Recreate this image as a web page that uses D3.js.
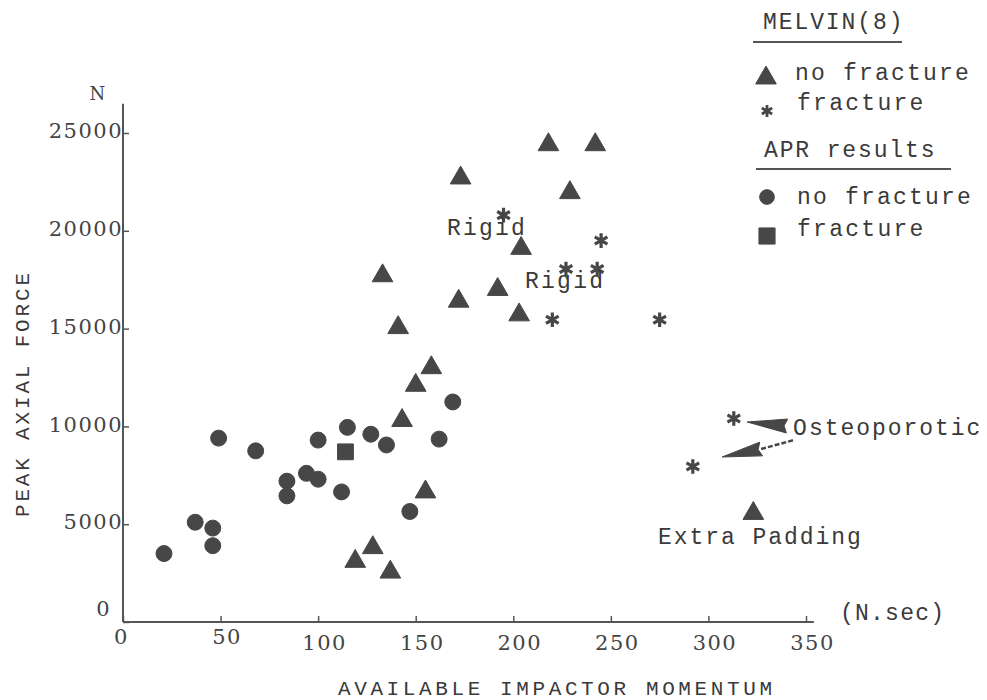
<!DOCTYPE html>
<html>
<head>
<meta charset="utf-8">
<script src="https://cdn.jsdelivr.net/npm/d3@7"></script>
<style>
  body { margin: 0; background: #fff; }
  svg { display: block; }
  .tick-label { font-family: "DejaVu Serif", serif; font-size: 21px; fill: #444; letter-spacing: 1.5px; }
  .mono { font-family: "Liberation Mono", monospace; font-size: 23px; fill: #3a3a3a; }
</style>
</head>
<body>
<script>
  // ---- data ----
  // APR results, no fracture: [momentum N.sec, peak force N]
  var aprNoFracture = [
    [21, 3500], [37, 5100], [46, 4800], [46, 3900], [49, 9400], [68, 8750],
    [84, 7200], [84, 6450], [94, 7600], [100, 7300], [100, 9300], [112, 6650],
    [115, 9950], [127, 9600], [135, 9050], [147, 5650], [162, 9350], [169, 11250]
  ];
  // APR results, fracture
  var aprFracture = [[114, 8700]];
  // MELVIN(8), no fracture
  var melvinNoFracture = [
    [158, 13000], [150, 12100], [143, 10300], [155, 6650], [128, 3800], [119, 3100],
    [137, 2550], [173, 22700], [133, 17700], [192, 17000], [172, 16400], [141, 15050],
    [218, 24400], [242, 24400], [229, 21950], [204, 19100], [203, 15700], [323, 5550]
  ];
  // MELVIN(8), fracture
  var melvinFracture = [
    [195, 20800], [245, 19500], [227, 18050], [243, 18050], [220, 15450],
    [275, 15450], [313, 10400], [292, 7950]
  ];

  var xTicks = [0, 50, 100, 150, 200, 250, 300, 350];
  var yTicks = [0, 5000, 10000, 15000, 20000, 25000];

  // text annotations, anchored in data units
  var notes = [
    { label: "Rigid", x: 166, y: 19800 },
    { label: "Rigid", x: 206, y: 17080 },
    { label: "Osteoporotic", x: 343.4, y: 9560 },
    { label: "Extra Padding", x: 274.2, y: 3990 }
  ];
  // arrows to the osteoporotic specimens: tip, base, optional dashed tail
  var arrows = [
    { tip: [319.8, 10225], base: [340.3, 10020], tail: null },
    { tip: [307, 8436], base: [327, 8845], tail: [343.9, 9305] }
  ];

  // ---- setup ----
  var width = 987, height = 700;
  var ink = "#474747";

  var svg = d3.select("body").append("svg")
    .attr("width", width)
    .attr("height", height);

  var x = d3.scaleLinear().domain([0, 350]).range([123, 806]);
  var y = d3.scaleLinear().domain([0, 25000]).range([622, 133]);

  // axis lines (hand drawn look: run a bit past the last tick)
  svg.append("line")
    .attr("x1", x(0)).attr("x2", x(0))
    .attr("y1", y(0)).attr("y2", y(26500))
    .attr("stroke", "#555").attr("stroke-width", 2);
  svg.append("line")
    .attr("x1", x(0)).attr("x2", x(354))
    .attr("y1", y(0)).attr("y2", y(0))
    .attr("stroke", "#555").attr("stroke-width", 2);

  // x axis ticks + labels
  var xAxisG = svg.append("g")
    .attr("transform", "translate(0," + y(0) + ")")
    .call(d3.axisBottom(x).tickValues(xTicks).tickSize(-6).tickPadding(11).tickFormat(d3.format("d")));
  xAxisG.select(".domain").remove();
  xAxisG.selectAll(".tick line").attr("stroke", "#555").attr("stroke-width", 1.5);
  xAxisG.selectAll(".tick text")
    .attr("class", "tick-label")
    .attr("dx", function (d) { return d === 0 ? -2 : 6; })
    .attr("dy", function (d) { return d < 100 ? "0.5em" : "0.8em"; });

  // y axis ticks + labels
  var yAxisG = svg.append("g")
    .attr("transform", "translate(" + x(0) + ",0)")
    .call(d3.axisLeft(y).tickValues(yTicks).tickSize(-6).tickPadding(0).tickFormat(d3.format("d")));
  yAxisG.select(".domain").remove();
  yAxisG.selectAll(".tick line").attr("stroke", "#555").attr("stroke-width", 1.5);
  yAxisG.selectAll(".tick text")
    .attr("class", "tick-label")
    .attr("dx", function (d) { return d === 0 ? -12 : 0; })
    .attr("dy", function (d) { return d === 0 ? "-0.3em" : "0.22em"; });

  // the axis groups carry font attributes; let the tick-label style decide
  svg.selectAll(".tick-label")
    .style("font-family", "'DejaVu Serif', serif")
    .style("font-size", "21px")
    .style("fill", "#444");

  // axis titles
  svg.append("text")
    .attr("class", "tick-label")
    .attr("x", 98).attr("y", 100)
    .attr("text-anchor", "middle")
    .style("font-size", "18px")
    .text("N");
  svg.append("text")
    .attr("class", "mono")
    .attr("x", 840).attr("y", 620)
    .attr("textLength", 104)
    .text("(N.sec)");
  svg.append("text")
    .attr("class", "mono")
    .attr("x", 338).attr("y", 695)
    .attr("textLength", 434)
    .style("font-size", "21px")
    .text("AVAILABLE IMPACTOR MOMENTUM");
  svg.append("text")
    .attr("class", "mono")
    .attr("transform", "translate(29,517) rotate(-90)")
    .attr("textLength", 244)
    .style("font-size", "21px")
    .text("PEAK AXIAL FORCE");

  // ---- marks ----
  var circleSym = d3.symbol().type(d3.symbolCircle).size(200);
  var squareSym = d3.symbol().type(d3.symbolSquare).size(250);
  var triSym = d3.symbol().type(d3.symbolTriangle).size(185);
  var starSym = d3.symbol().type(d3.symbolAsterisk).size(150);

  function plot(data, sym, cls, isStroke) {
    svg.append("g").attr("class", cls)
      .selectAll("path")
      .data(data)
      .enter().append("path")
      .attr("transform", function (d) { return "translate(" + x(d[0]) + "," + y(d[1]) + ")"; })
      .attr("d", sym)
      .attr("fill", isStroke ? "none" : ink)
      .attr("stroke", ink)
      .attr("stroke-width", isStroke ? 3.2 : 1)
      .attr("stroke-linejoin", "round");
  }

  plot(aprNoFracture, circleSym, "apr-nofrac", false);
  plot(aprFracture, squareSym, "apr-frac", false);
  plot(melvinNoFracture, triSym, "melvin-nofrac", false);
  plot(melvinFracture, starSym, "melvin-frac", true);

  // ---- annotations ----
  svg.append("g").selectAll("text")
    .data(notes)
    .enter().append("text")
    .attr("class", "mono")
    .attr("x", function (d) { return x(d.x); })
    .attr("y", function (d) { return y(d.y); })
    .attr("textLength", function (d) { return d.label.length * 15.6; })
    .text(function (d) { return d.label; });

  arrows.forEach(function (a) {
    var tx = x(a.tip[0]), ty = y(a.tip[1]);
    var bx = x(a.base[0]), by = y(a.base[1]);
    var len = Math.hypot(bx - tx, by - ty);
    var dx = (bx - tx) / len, dy = (by - ty) / len;
    var px = -dy, py = dx, hw = 7;
    var pts = [
      [tx, ty],
      [bx + px * hw, by + py * hw],
      [bx - dx * 3, by - dy * 3],
      [bx - px * hw, by - py * hw]
    ];
    svg.append("path")
      .attr("d", d3.line()(pts) + "Z")
      .attr("fill", ink)
      .attr("stroke", ink)
      .attr("stroke-width", 1)
      .attr("stroke-linejoin", "round");
    if (a.tail) {
      svg.append("line")
        .attr("x1", bx).attr("y1", by)
        .attr("x2", x(a.tail[0])).attr("y2", y(a.tail[1]))
        .attr("stroke", ink)
        .attr("stroke-width", 2.5)
        .attr("stroke-dasharray", "5,2");
    }
  });

  // ---- legend ----
  var legendG = svg.append("g").attr("class", "legend");
  var legendItems = [
    { header: "MELVIN(8)", hx: 763, hy: 29, line: [753, 902, 42] },
    { sym: triSym, stroke: false, sx: 766, sy: 78, label: "no fracture", lx: 795, ly: 80 },
    { sym: d3.symbol().type(d3.symbolAsterisk).size(100), stroke: true, sx: 767, sy: 111, label: "fracture", lx: 797, ly: 110 },
    { header: "APR results", hx: 764, hy: 157, line: [756, 951, 169] },
    { sym: d3.symbol().type(d3.symbolCircle).size(170), stroke: false, sx: 767, sy: 197, label: "no fracture", lx: 797, ly: 204 },
    { sym: d3.symbol().type(d3.symbolSquare).size(260), stroke: false, sx: 767, sy: 236, label: "fracture", lx: 797, ly: 236 }
  ];
  legendItems.forEach(function (it) {
    if (it.header) {
      legendG.append("text")
        .attr("class", "mono")
        .attr("x", it.hx).attr("y", it.hy)
        .attr("textLength", it.header.length * 15.5)
        .text(it.header);
      legendG.append("line")
        .attr("x1", it.line[0]).attr("x2", it.line[1])
        .attr("y1", it.line[2]).attr("y2", it.line[2])
        .attr("stroke", "#555").attr("stroke-width", 2);
    } else {
      legendG.append("path")
        .attr("transform", "translate(" + it.sx + "," + it.sy + ")")
        .attr("d", it.sym)
        .attr("fill", it.stroke ? "none" : ink)
        .attr("stroke", ink)
        .attr("stroke-width", it.stroke ? 2.8 : 1);
      legendG.append("text")
        .attr("class", "mono")
        .attr("x", it.lx).attr("y", it.ly)
        .attr("textLength", it.label.length * 15.8)
        .text(it.label);
    }
  });
</script>
</body>
</html>
